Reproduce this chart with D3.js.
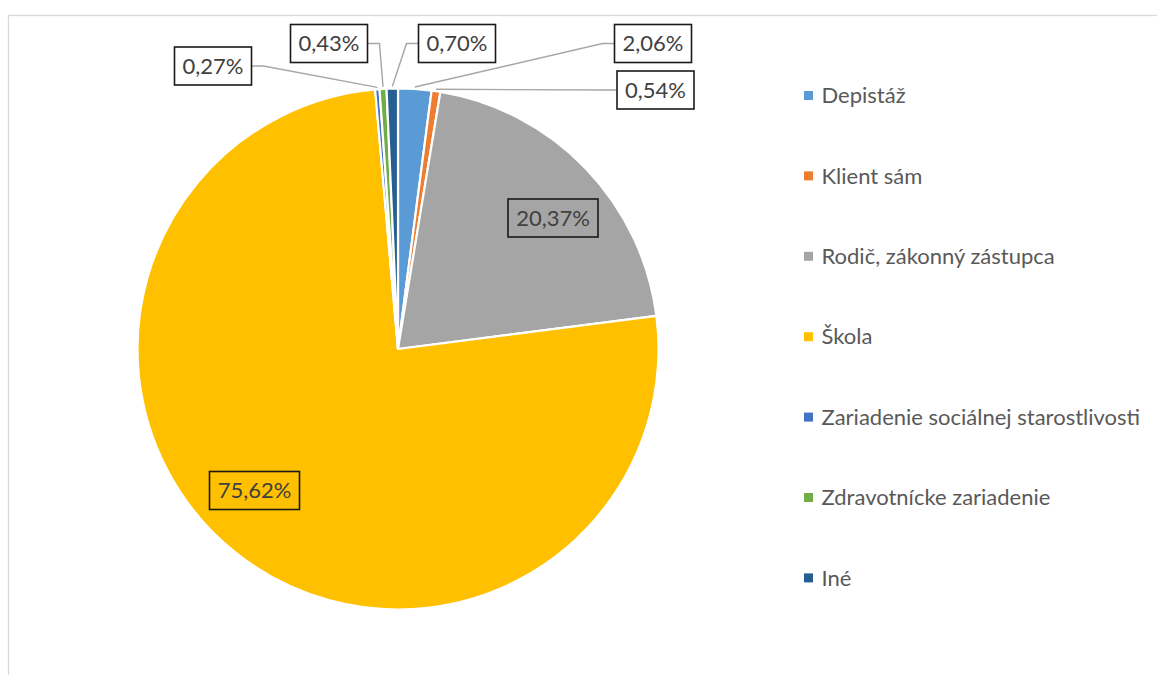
<!DOCTYPE html>
<html>
<head>
<meta charset="utf-8">
<script src="https://cdn.jsdelivr.net/npm/d3@7"></script>
<style>
  html, body { margin: 0; padding: 0; background: #fff; }
  svg { display: block; }
</style>
</head>
<body>
<div id="chart"></div>
<script>
// data
var categories = ["Depistáž", "Klient sám", "Rodič, zákonný zástupca", "Škola",
    "Zariadenie sociálnej starostlivosti", "Zdravotnícke zariadenie", "Iné"];
var shares = [2.06, 0.54, 20.37, 75.62, 0.27, 0.43, 0.70];
var labelTexts = ["2,06%", "0,54%", "20,37%", "75,62%", "0,27%", "0,43%", "0,70%"];
var colors = ["#5B9BD5", "#ED7D31", "#A5A5A5", "#FFC000", "#4472C4", "#70AD47", "#255E91"];

// label box placement (offset of box centre from pie centre), outside = gets a leader line
var labelLayout = [
    { dx: 255, dy: -305.5, outside: true },
    { dx: 257.5, dy: -259, outside: true },
    { dx: 155, dy: -131, outside: false },
    { dx: -143.5, dy: 141.5, outside: false },
    { dx: -185, dy: -283, outside: true },
    { dx: -69, dy: -305.5, outside: true },
    { dx: 59, dy: -305.5, outside: true }
];

var width = 1157, height = 675;
var cx = 398, cy = 349, radius = 260.5;
var boxH = 38;

var svg = d3.select("#chart").append("svg")
    .attr("width", width)
    .attr("height", height);

// chart frame (runs off the bottom/right of the picture)
svg.append("rect")
    .attr("x", 8.5).attr("y", 15.5)
    .attr("width", width + 20).attr("height", height + 20)
    .attr("fill", "none")
    .attr("stroke", "#D9D9D9")
    .attr("stroke-width", 1.3);

var color = d3.scaleOrdinal().domain(categories).range(colors);

var pie = d3.pie().sort(null).value(function(d) { return d.value; });
var arcs = pie(categories.map(function(c, i) {
    return { name: c, value: shares[i], label: labelTexts[i], layout: labelLayout[i] };
}));

var arc = d3.arc().innerRadius(0).outerRadius(radius);
var edgeArc = d3.arc().innerRadius(radius).outerRadius(radius);

var g = svg.append("g").attr("transform", "translate(" + cx + "," + cy + ")");

g.selectAll("path.slice")
    .data(arcs)
    .enter().append("path")
    .attr("class", "slice")
    .attr("d", arc)
    .attr("fill", function(d) { return color(d.data.name); })
    .attr("stroke", "#fff")
    .attr("stroke-width", 2.2)
    .attr("stroke-linejoin", "round");

// labels
var font = "Lato, 'Open Sans', sans-serif";
var fontSize = 22;

var labels = g.selectAll("g.lbl")
    .data(arcs)
    .enter().append("g")
    .attr("class", "lbl");

labels.append("text")
    .attr("x", function(d) { return d.data.layout.dx; })
    .attr("y", function(d) { return d.data.layout.dy; })
    .attr("dy", "0.35em")
    .attr("text-anchor", "middle")
    .style("font-family", font)
    .style("font-size", fontSize + "px")
    .attr("fill", "#404040")
    .text(function(d) { return d.data.label; });

labels.each(function(d) {
    var sel = d3.select(this);
    var tw = sel.select("text").node().getComputedTextLength();
    var bw = Math.round(tw + 16);
    var L = d.data.layout;
    d.box = { x0: L.dx - bw / 2, x1: L.dx + bw / 2, y: L.dy };

    sel.insert("rect", "text")
        .attr("x", L.dx - bw / 2)
        .attr("y", L.dy - boxH / 2)
        .attr("width", bw)
        .attr("height", boxH)
        .attr("fill", L.outside ? "#fff" : "none")
        .attr("stroke", "#1a1a1a")
        .attr("stroke-width", 1.6);

    if (L.outside) {
        var p = edgeArc.centroid(d);
        var leftSide = p[0] < L.dx - bw / 2;
        var ex = leftSide ? d.box.x0 : d.box.x1;
        var elbow = leftSide ? ex - 12 : ex + 12;
        g.insert("polyline", "g.lbl")
            .attr("points", [[ex, L.dy], [elbow, L.dy], [p[0], p[1] - 2]].join(" "))
            .attr("fill", "none")
            .attr("stroke", "#A6A6A6")
            .attr("stroke-width", 1.4);
    }
});

// legend
var legend = svg.append("g").attr("transform", "translate(804,95.5)");
var rows = legend.selectAll("g")
    .data(categories)
    .enter().append("g")
    .attr("transform", function(d, i) { return "translate(0," + (i * 80.4) + ")"; });

rows.append("rect")
    .attr("x", 0).attr("y", -4.5)
    .attr("width", 9).attr("height", 9)
    .attr("fill", function(d) { return color(d); });

rows.append("text")
    .attr("x", 17.5)
    .attr("y", 0)
    .attr("dy", "0.35em")
    .style("font-family", font)
    .style("font-size", fontSize + "px")
    .attr("fill", "#595959")
    .text(function(d) { return d; });
</script>
</body>
</html>
